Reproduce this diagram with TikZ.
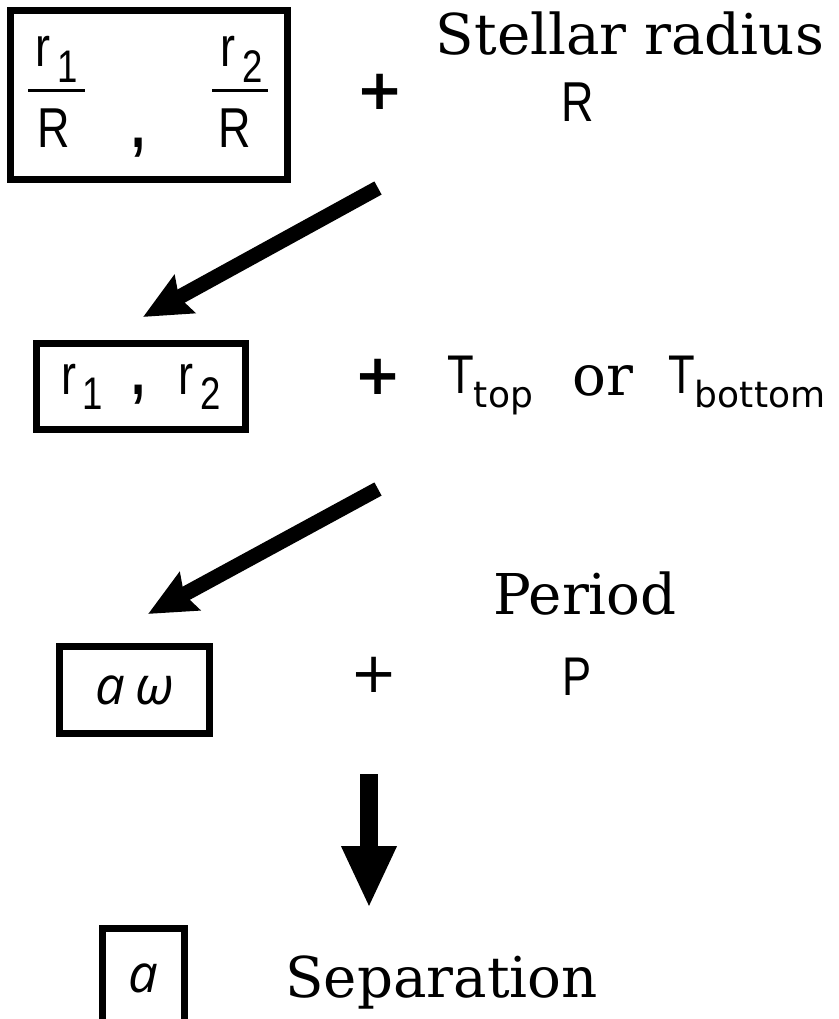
\documentclass[tikz,border=0pt]{standalone}
\usepackage{fontspec}
\usepackage{tikz}
\usetikzlibrary{arrows.meta}
\newfontfamily\symfont[FakeStretch=0.8]{Liberation Sans}
\newfontfamily\subfont{DejaVu Sans}
\newfontfamily\plusfont{DejaVu Sans}
\newfontfamily\wordfont{DejaVu Serif}
\newfontfamily\curlfont{Open Sans}
\newcommand{\lowsub}[1]{\kern0.12em\raisebox{-0.27em}{\fontsize{26}{26}\selectfont #1}}
\newcommand{\tsub}[1]{\raisebox{-8.5pt}{\subfont\fontsize{20.5}{21}\selectfont #1}}
\newcommand{\heavycomma}{{\bfseries\fontsize{36}{36}\selectfont ,}}

\begin{document}
\begin{tikzpicture}[
  box/.style={draw=black, line width=0.14cm, fill=white, inner sep=0pt},
  sym/.style={font=\symfont\fontsize{32}{38}\selectfont, inner sep=0pt},
  symsmall/.style={font=\symfont\fontsize{31}{36}\selectfont, inner sep=0pt},
  word/.style={font=\wordfont\fontsize{32}{38}\selectfont, inner sep=0pt},
  curl/.style={font=\curlfont\itshape\fontsize{30}{36}\selectfont, inner sep=0pt},
  plus/.style={font=\plusfont\bfseries\fontsize{32}{38}\selectfont, inner sep=0pt},
  thinplus/.style={font=\plusfont\fontsize{32}{38}\selectfont, inner sep=0pt},
  fracbar/.style={line width=0.06cm},
  bigarrow/.style={-{Stealth[length=0.94cm, width=0.84cm, inset=0.12cm]}, line width=0.3cm},
  downarrow/.style={-{Triangle[length=1.24cm, width=1.02cm]}, line width=0.36cm}
]
\clip (0,0) rectangle (16.78,-20.38);

% first row: ratios
\node[box, minimum width=5.54cm, minimum height=3.38cm] (ratiobox) at (2.98,-1.90) {};
\node[sym, anchor=base] (numone) at (1.14,-1.34) {r\lowsub{1}};
\node[sym, anchor=base] (denone) at (1.08,-2.94) {R};
\draw[fracbar] (0.56,-1.82) -- (1.70,-1.82);
\node[sym, anchor=base] (ratiocomma) at (2.78,-2.94) {\heavycomma};
\node[sym, anchor=base] (numtwo) at (4.83,-1.34) {r\lowsub{2}};
\node[sym, anchor=base] (dentwo) at (4.70,-2.94) {R};
\draw[fracbar] (4.24,-1.82) -- (5.36,-1.82);
\node[plus] (plusone) at (7.60,-1.84) {+};
\node[word, anchor=base] (stellar) at (12.60,-1.10) {Stellar radius};
\node[sym, anchor=base] (radius) at (11.56,-2.44) {R};

\coordinate (tailone) at (7.56,-3.76);
\coordinate (tipone) at (2.86,-6.34);
\draw[bigarrow] (tailone) -- (tipone);

% second row: radii
\node[box, sym, minimum width=4.18cm, minimum height=1.72cm] (radiibox) at (2.82,-7.73) {r\lowsub{1}\hspace{16pt}\heavycomma\hspace{19pt}r\lowsub{2}};
\node[plus] (plustwo) at (7.57,-7.54) {+};
\node[symsmall, anchor=base west] (ttop) at (8.94,-7.86) {T\tsub{top}};
\node[word, anchor=base west] (orword) at (11.44,-7.90) {or};
\node[symsmall, anchor=base west] (tbottom) at (13.36,-7.86) {T\tsub{bottom}};

\coordinate (tailtwo) at (7.56,-9.78);
\coordinate (tiptwo) at (2.96,-12.28);
\draw[bigarrow] (tailtwo) -- (tiptwo);

% third row: a omega
\node[box, curl, minimum width=3.0cm, minimum height=1.74cm] (aomegabox) at (2.69,-13.80) {a\hspace{6pt}ω};
\node[thinplus] (plusthree) at (7.48,-13.50) {+};
\node[word, anchor=base] (period) at (11.70,-12.28) {Period};
\node[symsmall, anchor=base] (periodsym) at (11.54,-13.90) {P};

\coordinate (taildown) at (7.38,-15.48);
\coordinate (tipdown) at (7.38,-18.16);
\draw[downarrow] (taildown) -- (tipdown);

% last row: separation
\node[box, curl, minimum width=1.64cm, minimum height=1.99cm] (sepbox) at (2.87,-19.56) {a};
\node[word, anchor=base west] (separation) at (5.70,-19.94) {Separation};
\end{tikzpicture}
\end{document}
